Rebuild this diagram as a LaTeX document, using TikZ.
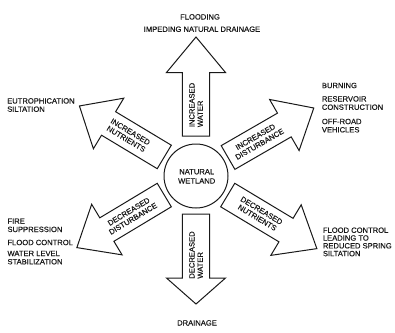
\documentclass[tikz,border=0pt]{standalone}
\usepackage{fontspec}
\setmainfont{Liberation Sans}[FakeBold=0.5]
\usetikzlibrary{calc}
\newcommand\wetarrow[8]{% #1 name, #2 angle, #3 start, #4 tip, #5 head length, #6 text distance, #7 text options, #8 text
  \begin{scope}[shift={(wet.center)}, rotate=#2]
    \draw[bigarrow] (#3,-13.7) -- ({#4-#5},-13.7) -- ({#4-#5},-29.5) -- (#4,0)
      -- ({#4-#5},29.5) -- ({#4-#5},13.7) -- (#3,13.7) -- cycle;
  \end{scope}
  \node[#7] (#1) at ($(wet.center)+({#6*cos(#2)},{-#6*sin(#2)})$) {#8};
}
\begin{document}
\begin{tikzpicture}[x=1pt,y=-1pt,
  every node/.style={font=\fontsize{7.6pt}{8.3pt}\selectfont, inner sep=0pt, text=black!90},
  lbl/.style={align=left, anchor=north west},
  toplbl/.style={align=center, anchor=north},
  bigarrow/.style={draw=black!90, line width=1pt, line join=miter, fill=white},
  vtext/.style={align=left, rotate=90},
  dtext/.style={align=center}]
\useasboundingbox (0,0) rectangle (395,332);
\node[circle, draw=black!90, line width=1pt, minimum size=64pt] (wet) at (196,176) {};
\node[align=center] (wetlbl) at (196.7,176.3) {NATURAL\\[1pt]WETLAND};

\wetarrow{incwater}{90}{40}{139}{35.5}{71}{vtext}{INCREASED\\WATER}
\wetarrow{decwater}{270}{38}{128}{26}{79}{vtext}{DECREASED\\WATER}
\wetarrow{incnut}{149}{37}{136}{34}{79}{dtext, rotate=-31}{INCREASED\\NUTRIENTS}
\wetarrow{incdist}{30}{37}{136}{34}{71}{dtext, rotate=30}{INCREASED\\DISTURBANCE}
\wetarrow{decdist}{211}{37}{139}{35}{76}{dtext, rotate=31}{DECREASED\\DISTURBANCE}
\wetarrow{decnut}{-31}{37}{141}{36}{74}{dtext, rotate=-31}{DECREASED\\NUTRIENTS}

\node[toplbl] (flood) at (200,14) {FLOODING};
\node[toplbl] (impede) at (202,26.3) {IMPEDING NATURAL DRAINAGE};
\node[toplbl] (drain) at (197,320) {DRAINAGE};

\node[lbl] (eutro) at (7,98) {EUTROPHICATION\\SILTATION};
\node[lbl] (fire) at (7.3,218.3) {FIRE\\SUPPRESSION};
\node[lbl] (fctrl) at (7.3,239.6) {FLOOD CONTROL};
\node[lbl] (wlevel) at (7.3,250.6) {WATER LEVEL\\STABILIZATION};

\node[lbl] (burn) at (321.7,82.6) {BURNING};
\node[lbl] (reserv) at (321.7,96) {RESERVOIR\\CONSTRUCTION};
\node[lbl] (offroad) at (321.7,118.6) {OFF-ROAD\\VEHICLES};
\node[lbl, font=\fontsize{7.6pt}{7.8pt}\selectfont] (fctrlr) at (322.7,227.3) {FLOOD CONTROL\\LEADING TO\\REDUCED SPRING\\SILTATION};
\end{tikzpicture}
\end{document}
